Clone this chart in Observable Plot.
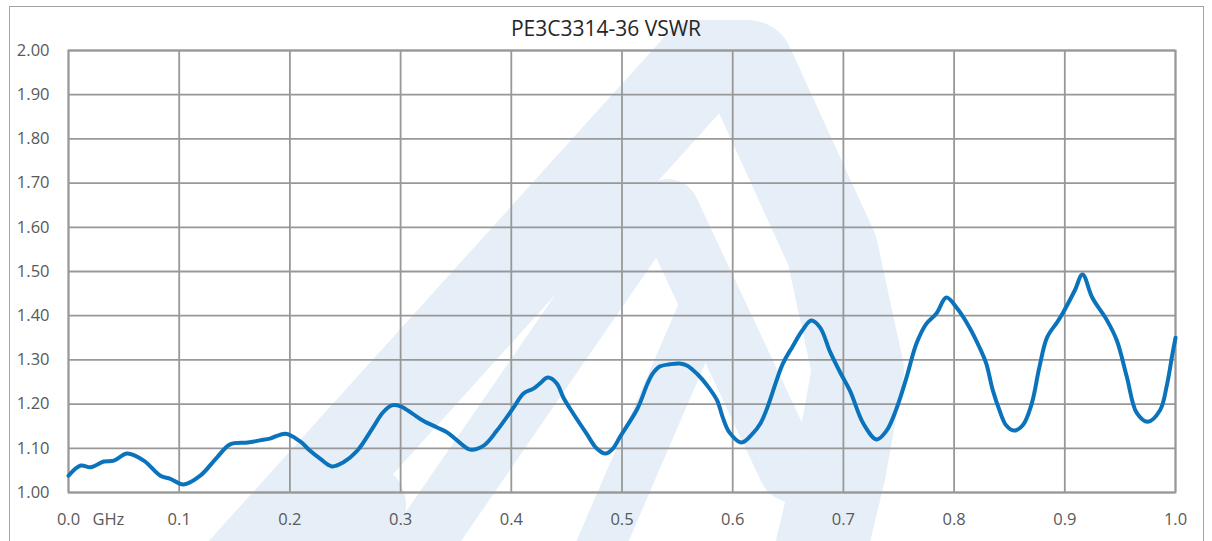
<!DOCTYPE html>
<html>
<head>
<meta charset="utf-8">
<script src="https://cdn.jsdelivr.net/npm/d3@7"></script>
<script src="https://cdn.jsdelivr.net/npm/@observablehq/plot@0.6"></script>
<style>
  html, body { margin: 0; padding: 0; background: #fff; }
  #wrap { position: relative; width: 1212px; height: 541px; overflow: hidden; background: #fff; }
  #wm { position: absolute; left: 0; top: 0; }
  #border { position: absolute; left: 9px; top: 6px; width: 1195px; height: 560px; border: 1.5px solid #a3a3a3; box-sizing: border-box; }
  #title { position: absolute; left: 0; width: 1212px; top: 14px; text-align: center; font-family: "Open Sans", sans-serif; font-size: 21px; color: #262626; }
  #chart { position: absolute; left: 0; top: 0; }
</style>
</head>
<body>
<div id="wrap">
  <svg id="wm" width="1212" height="541">
    <g fill="none" stroke="#e6eff8" stroke-linejoin="round" stroke-linecap="round">
      <polyline points="240,575 700,66 748,66 832,250 858,370 840,470 815,575" stroke-width="92"/>
      <polyline points="400,575 648,215 668,210 790,470" stroke-width="62"/>
      <polyline points="362,505 300,610" stroke-width="88"/>
      <polyline points="588,575 702,310 716,310 795,480" stroke-width="48"/>
    </g>
  </svg>
  <div id="border"></div>
  <div id="chart"></div>
  <div id="title">PE3C3314-36 VSWR</div>
</div>
<script>
const title = "PE3C3314-36 VSWR";
const unitLabel = "GHz";
const freqGHz = [0.000,0.011,0.020,0.032,0.041,0.053,0.068,0.083,0.092,0.104,0.119,0.134,0.146,0.162,0.173,0.182,0.196,0.209,0.218,0.227,0.238,0.248,0.261,0.275,0.284,0.292,0.300,0.311,0.320,0.333,0.342,0.351,0.363,0.375,0.387,0.402,0.411,0.420,0.426,0.433,0.441,0.447,0.453,0.468,0.477,0.485,0.492,0.498,0.514,0.523,0.528,0.534,0.543,0.552,0.559,0.568,0.577,0.586,0.591,0.597,0.608,0.618,0.625,0.631,0.645,0.654,0.663,0.671,0.679,0.688,0.697,0.706,0.718,0.730,0.739,0.748,0.757,0.766,0.775,0.784,0.793,0.802,0.814,0.823,0.829,0.835,0.841,0.847,0.854,0.862,0.870,0.877,0.884,0.893,0.898,0.909,0.916,0.925,0.938,0.947,0.956,0.965,0.975,0.986,0.992,0.997,1.000];
const vswr    = [1.038,1.061,1.057,1.070,1.072,1.088,1.072,1.038,1.031,1.018,1.038,1.079,1.109,1.113,1.118,1.122,1.133,1.116,1.095,1.077,1.059,1.068,1.095,1.147,1.181,1.197,1.195,1.178,1.163,1.147,1.136,1.118,1.097,1.106,1.140,1.192,1.224,1.235,1.247,1.260,1.247,1.215,1.190,1.133,1.100,1.088,1.100,1.125,1.190,1.246,1.270,1.285,1.290,1.292,1.287,1.268,1.242,1.208,1.170,1.136,1.113,1.133,1.156,1.190,1.290,1.330,1.367,1.389,1.373,1.318,1.272,1.230,1.156,1.120,1.140,1.190,1.260,1.337,1.382,1.405,1.441,1.419,1.373,1.328,1.292,1.231,1.186,1.152,1.140,1.152,1.200,1.283,1.351,1.385,1.405,1.457,1.493,1.440,1.390,1.344,1.262,1.180,1.160,1.186,1.240,1.310,1.350];
const xTicks = [0,0.1,0.2,0.3,0.4,0.5,0.6,0.7,0.8,0.9,1.0];
const yTicks = [1.0,1.1,1.2,1.3,1.4,1.5,1.6,1.7,1.8,1.9,2.0];

const data = freqGHz.map((f, i) => ({f, v: vswr[i]}));
const gridColor = "#989898";

const chart = Plot.plot({
  width: 1212,
  height: 541,
  marginLeft: 68,
  marginRight: 37,
  marginTop: 50,
  marginBottom: 49,
  style: {fontFamily: "'Open Sans', sans-serif", fontSize: "16.5px", color: "#595959", background: "transparent", overflow: "visible"},
  x: {domain: [0, 1], ticks: xTicks},
  y: {domain: [1, 2], ticks: yTicks},
  marks: [
    Plot.gridX(xTicks, {stroke: gridColor, strokeOpacity: 1, strokeWidth: 1.8}),
    Plot.gridY(yTicks, {stroke: gridColor, strokeOpacity: 1, strokeWidth: 1.8}),
    Plot.frame({stroke: gridColor, strokeWidth: 1.8}),
    Plot.axisX(xTicks, {tickSize: 0, tickPadding: 21, tickFormat: d3.format(".1f"), label: null, fill: "#595959", fontSize: 16.5}),
    Plot.axisY(yTicks, {tickSize: 0, tickPadding: 19, tickFormat: d3.format(".2f"), label: null, fill: "#595959", fontSize: 16.5}),
    Plot.text([unitLabel], {x: () => 0.036, frameAnchor: "bottom", lineAnchor: "top", dy: 21, fill: "#595959", fontSize: 16.5}),
    Plot.line(data, {x: "f", y: "v", stroke: "#0b73bb", strokeWidth: 4, curve: "catmull-rom"})
  ]
});
document.getElementById("chart").appendChild(chart);
</script>
</body>
</html>
